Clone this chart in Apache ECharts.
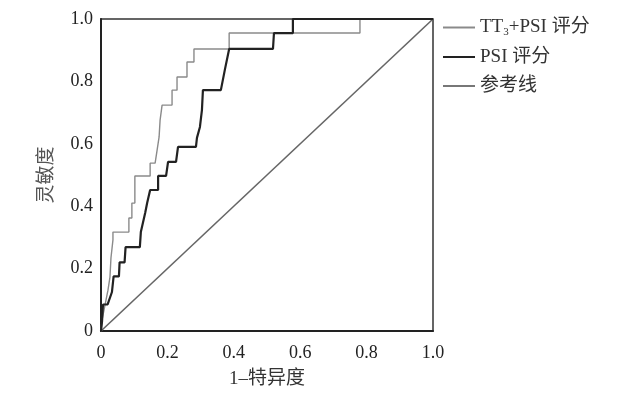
<!DOCTYPE html>
<html>
<head>
<meta charset="utf-8">
<script src="https://cdn.jsdelivr.net/npm/echarts@6/dist/echarts.min.js"></script>
<style>
html,body{margin:0;padding:0;background:#fff;}
#c{width:624px;height:396px;}
</style>
</head>
<body>
<div id="c"></div>
<script>
// Series names
var seriesNames = ['TT3+PSI 评分', 'PSI 评分', '参考线'];
// TT3+PSI ROC curve (1-specificity, sensitivity)
var tt3X = [0, 0.003, 0.009, 0.015, 0.021, 0.027, 0.030, 0.036, 0.036, 0.084, 0.084, 0.093, 0.093, 0.102, 0.102, 0.148, 0.148, 0.163, 0.169, 0.175, 0.178, 0.184, 0.214, 0.214, 0.229, 0.229, 0.259, 0.259, 0.280, 0.280, 0.386, 0.386, 0.780, 0.780, 1.0];
var tt3Y = [0, 0.035, 0.067, 0.099, 0.131, 0.173, 0.234, 0.292, 0.317, 0.317, 0.362, 0.362, 0.410, 0.410, 0.497, 0.497, 0.538, 0.538, 0.580, 0.622, 0.676, 0.724, 0.724, 0.772, 0.772, 0.814, 0.814, 0.862, 0.862, 0.904, 0.904, 0.955, 0.955, 1.0, 1.0];
// PSI ROC curve
var psiX = [0, 0.003, 0.006, 0.006, 0.020, 0.033, 0.038, 0.054, 0.056, 0.071, 0.074, 0.117, 0.120, 0.133, 0.139, 0.148, 0.172, 0.172, 0.196, 0.202, 0.226, 0.232, 0.286, 0.289, 0.298, 0.304, 0.307, 0.361, 0.373, 0.386, 0.518, 0.521, 0.578, 0.578, 1.0];
var psiY = [0, 0.029, 0.029, 0.085, 0.085, 0.125, 0.175, 0.175, 0.220, 0.220, 0.269, 0.269, 0.317, 0.378, 0.410, 0.452, 0.452, 0.497, 0.497, 0.542, 0.542, 0.590, 0.590, 0.619, 0.654, 0.708, 0.772, 0.772, 0.837, 0.904, 0.904, 0.955, 0.955, 1.0, 1.0];
// Reference line
var refX = [0, 1];
var refY = [0, 1];

function pairs(xs, ys) { return xs.map(function (x, i) { return [x, ys[i]]; }); }
function fmt(v) { return v === 0 ? '0' : v.toFixed(1); }

var FONT = '"Liberation Serif", "Noto Sans CJK SC", serif';
var chart = echarts.init(document.getElementById('c'), null, {renderer: 'canvas'});
var axisCommon = {
  type: 'value', min: 0, max: 1, interval: 0.2,
  axisLine: {show: true, lineStyle: {color: '#222', width: 2}},
  axisTick: {show: false},
  splitLine: {show: false},
  axisLabel: {color: '#222', fontFamily: FONT, fontSize: 18, formatter: fmt}
};
chart.setOption({
  animation: false,
  backgroundColor: '#fff',
  grid: {left: 101, top: 19, width: 332, height: 312, show: true, borderColor: '#333', borderWidth: 1.5, backgroundColor: 'transparent'},
  xAxis: Object.assign({}, axisCommon, {
    name: '1–特异度', nameLocation: 'middle', nameGap: 39,
    nameTextStyle: {color: '#333', fontFamily: FONT, fontSize: 19},
    axisLabel: Object.assign({}, axisCommon.axisLabel, {margin: 13})
  }),
  yAxis: Object.assign({}, axisCommon, {
    name: '灵敏度', nameLocation: 'middle', nameGap: 44, nameRotate: 90,
    nameTextStyle: {color: '#555', fontFamily: FONT, fontSize: 19},
    axisLabel: Object.assign({}, axisCommon.axisLabel, {margin: 8})
  }),
  legend: {
    orient: 'vertical', left: 443, top: 18, itemGap: 10, padding: 0,
    itemWidth: 32, itemHeight: 2, icon: 'rect',
    data: seriesNames,
    formatter: function (n) {
      if (n === seriesNames[0]) return '{a|TT}{s|3}{a|+PSI 评分}';
      return '{a|' + n + '}';
    },
    textStyle: {
      color: '#333', fontFamily: FONT, fontSize: 19,
      rich: {
        a: {fontFamily: FONT, fontSize: 19, color: '#333'},
        s: {fontFamily: FONT, fontSize: 11, color: '#333', padding: [9, 0, 0, 0]}
      }
    }
  },
  series: [
    {name: seriesNames[0], type: 'line', symbol: 'none', data: pairs(tt3X, tt3Y),
     lineStyle: {color: '#8a8a8a', width: 1.4}, itemStyle: {color: '#8a8a8a'}, z: 3},
    {name: seriesNames[1], type: 'line', symbol: 'none', data: pairs(psiX, psiY),
     lineStyle: {color: '#222', width: 2.2}, itemStyle: {color: '#222'}, z: 4},
    {name: seriesNames[2], type: 'line', symbol: 'none', data: pairs(refX, refY),
     lineStyle: {color: '#666', width: 1.6}, itemStyle: {color: '#777'}, z: 2}
  ]
});
</script>
</body>
</html>
